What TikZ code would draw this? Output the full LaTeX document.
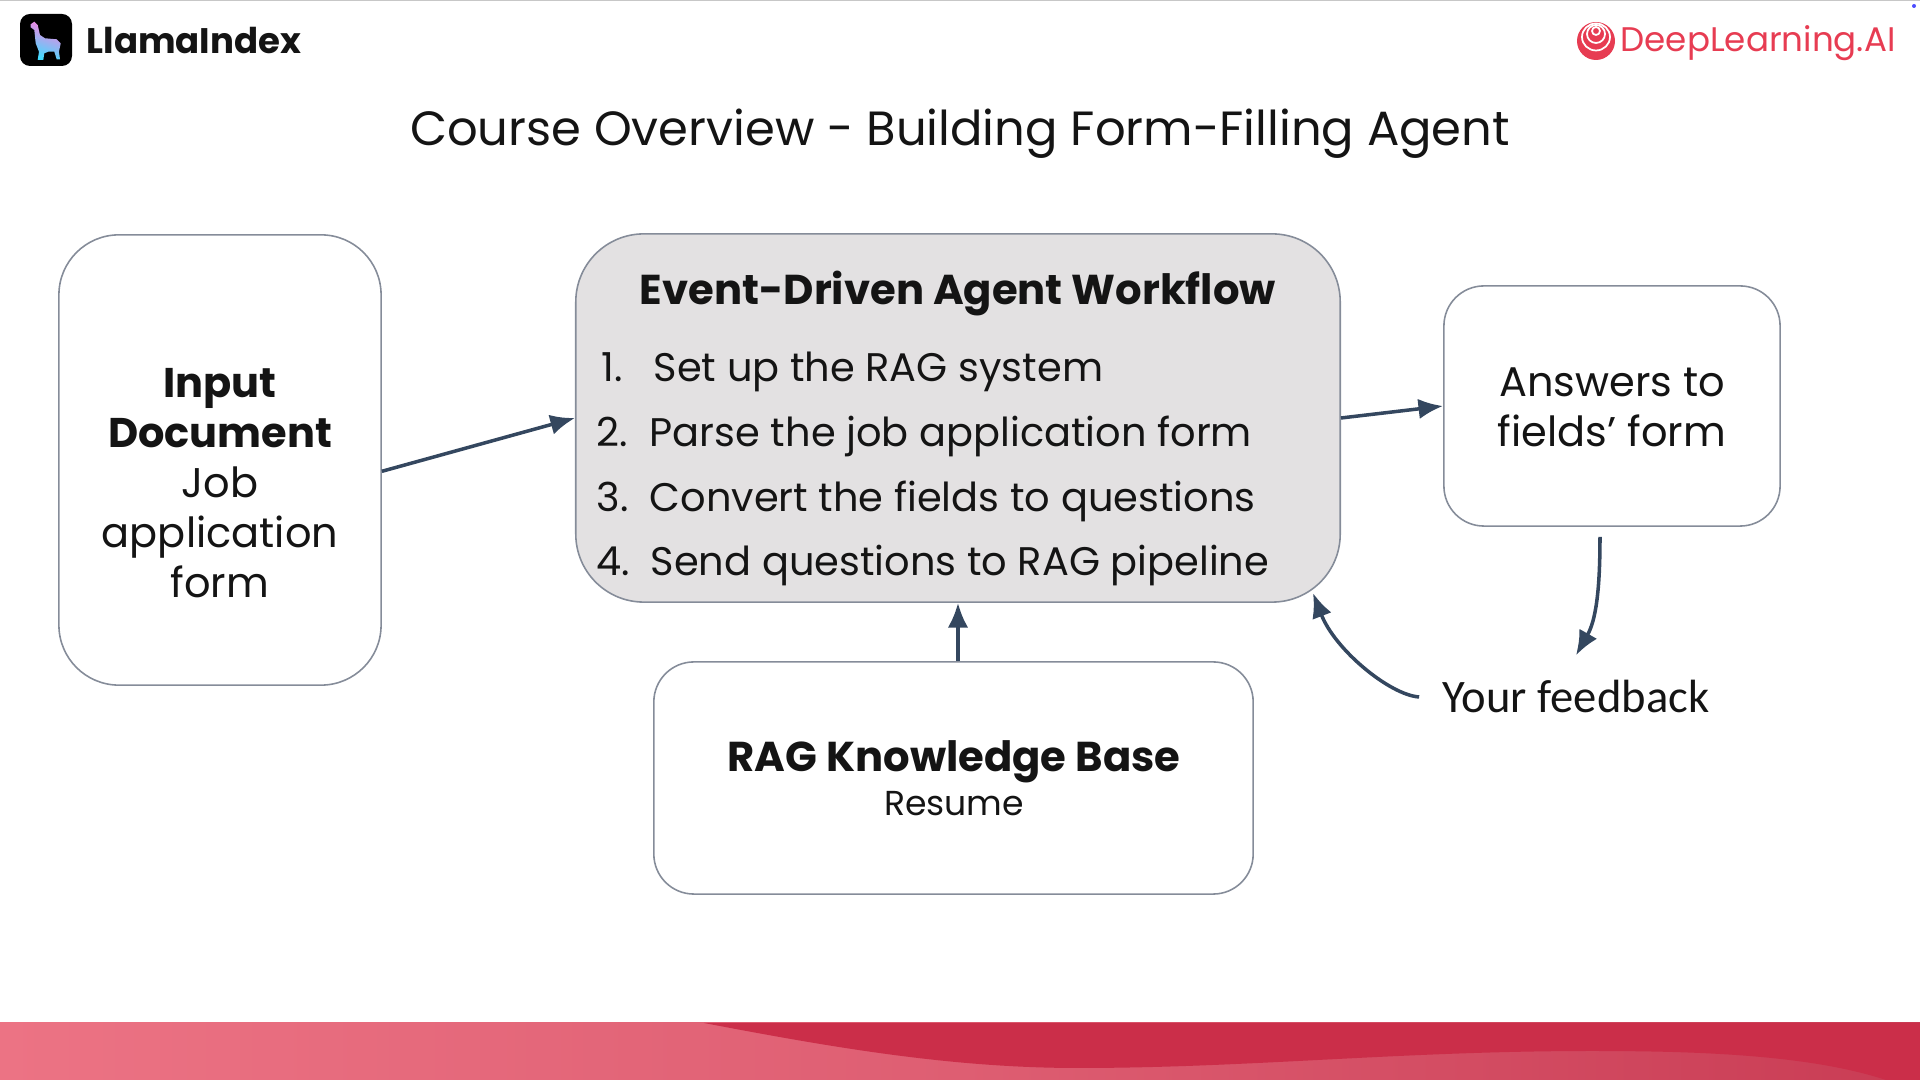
\documentclass[tikz,border=0pt]{standalone}
\usepackage{fontspec}
\usetikzlibrary{arrows.meta}
\setmainfont{Poppins}
\newfontfamily\feedbackfont{Carlito}
\definecolor{slateline}{HTML}{34475F}
\definecolor{boxline}{HTML}{858C99}
\definecolor{boxgray}{HTML}{E3E1E2}
\definecolor{dlred}{HTML}{E73C52}
\definecolor{llamapink}{HTML}{FF80E0}
\definecolor{llamamid}{HTML}{B0B8FF}
\definecolor{llamacyan}{HTML}{40DCFF}
\definecolor{waveleft}{HTML}{EC7384}
\definecolor{wavemid}{HTML}{DE5E72}
\definecolor{waveright}{HTML}{C93C54}
\definecolor{wavedark}{HTML}{CB2E49}
\tikzset{
  card/.style={draw=boxline, line width=0.45pt, inner sep=0pt},
  cardtext/.style={inner sep=0pt, align=center, text=black!92,
                   font=\fontsize{11.8}{14.2}\selectfont},
  headtext/.style={anchor=base, inner sep=0pt, text=black!92,
                   font=\fontsize{11.87}{14}\bfseries},
  flow/.style={draw=slateline, line width=1pt,
               -{Latex[length=7pt, width=5.8pt]}},
  itemtext/.style={anchor=base west, inner sep=0pt, text=black!92,
                   font=\fontsize{11.35}{14}\selectfont},
}
\begin{document}
\begin{tikzpicture}[x=0.01cm, y=-0.01cm]
  \useasboundingbox (0,0) rectangle (1920,1080);
  % header
  \fill[black!22] (0,0) rectangle (1920,1.5);
  \fill[black, rounded corners=0.1cm] (20,14) rectangle (72,66);
  \shade[left color=llamapink, middle color=llamamid, right color=llamacyan, shading angle=-20]
    (30.7,24.3) -- (34.3,21.7) -- (37.7,25) -- (40,35) -- (45,38.3) -- (56.7,39.3)
    -- (60.7,43.3) -- (59,51.7) -- (60,59.3) -- (56.7,59.3) -- (54.3,51.7) -- (48.3,51.7)
    -- (44.3,53.3) -- (43.3,60) -- (37.7,60) -- (39,51.7) -- (35.7,43.3) -- (34.3,30)
    -- (30.7,27.3) -- cycle;
  \node[anchor=base west, inner sep=0pt, text=black!92, font=\fontsize{10.1}{13}\bfseries]
    (llamaname) at (86,54) {LlamaIndex};
  \fill[dlred] (1596,41) circle (19);
  \draw[white, line width=0.5pt] (1596,37) ellipse (14 and 13.5);
  \draw[white, line width=0.5pt] (1596,34) ellipse (9 and 9);
  \draw[white, line width=0.5pt] (1596,31) circle (4);
  \node[anchor=base west, inner sep=0pt, text=dlred, font=\fontsize{9.7}{13}\selectfont]
    (dlname) at (1620,52) {DeepLearning.AI};
  \fill[blue!70!white] (1914,6) circle (2);
  \node[anchor=base, inner sep=0pt, text=black!92, font=\fontsize{13.66}{16}\selectfont]
    (title) at (960,146) {Course Overview - Building Form-Filling Agent};

  % boxes
  \node[card, minimum width=3.22cm, minimum height=4.5cm, rounded corners=0.6cm]
    (input) at (220,460) {};
  \node[card, fill=boxgray, minimum width=7.64cm, minimum height=3.68cm, rounded corners=0.68cm]
    (workflow) at (958,418) {};
  \node[card, minimum width=3.36cm, minimum height=2.4cm, rounded corners=0.4cm]
    (answers) at (1612,406) {};
  \node[card, minimum width=5.99cm, minimum height=2.32cm, rounded corners=0.4cm]
    (rag) at (953.5,778) {};

  % box text
  \node[cardtext] (inputtext) at (220,483) {\textbf{Input}\\\textbf{Document}\\Job\\application\\form};
  \node[cardtext] (answertext) at (1612,407) {Answers to\\fields’ form};
  \node[headtext] (ragname) at (954,772) {RAG Knowledge Base};
  \node[anchor=base, inner sep=0pt, text=black!92, font=\fontsize{9.85}{12}\selectfont]
    (resume) at (954,816) {Resume};
  \node[headtext] (worktitle) at (958,305) {Event-Driven Agent Workflow};
  \foreach \n/\x/\tx/\y/\t in {1/601/653/382/Set up the RAG system,
                               2/596/649/447/Parse the job application form,
                               3/596/649/512/Convert the fields to questions,
                               4/596/650/576/Send questions to RAG pipeline} {
    \node[itemtext] (num\n) at (\x,\y) {\n.};
    \node[itemtext] (item\n) at (\tx,\y) {\t};
  }

  \node[inner xsep=6.5pt, inner ysep=7pt, text=black!92, font=\feedbackfont\fontsize{13.25}{16}\selectfont]
    (feedback) at (1576,697) {Your feedback};
  \coordinate (anstail) at (1600,537);

  % connectors
  \draw[flow] (input.-4) -- (workflow.west);
  \draw[flow] (workflow.east) -- (answers.west);
  \draw[flow] (workflow.south |- rag.north) -- (workflow.south);
  \draw[flow] (anstail) .. controls (1600,590) and (1596,620) .. (feedback.north);
  \draw[flow] (feedback.west) .. controls (1390,695) and (1335,650) .. (1313,593);

  % footer
  \shade[left color=waveleft, right color=waveright, middle color=wavemid] (0,1023) rectangle (1920,1080);
  \fill[wavedark] (704,1023) .. controls (830,1047) and (950,1068) .. (1078,1068)
    .. controls (1250,1068) and (1400,1051) .. (1592,1051)
    .. controls (1700,1051) and (1810,1055) .. (1886,1080)
    -- (1920,1080) -- (1920,1023) -- cycle;
\end{tikzpicture}
\end{document}
